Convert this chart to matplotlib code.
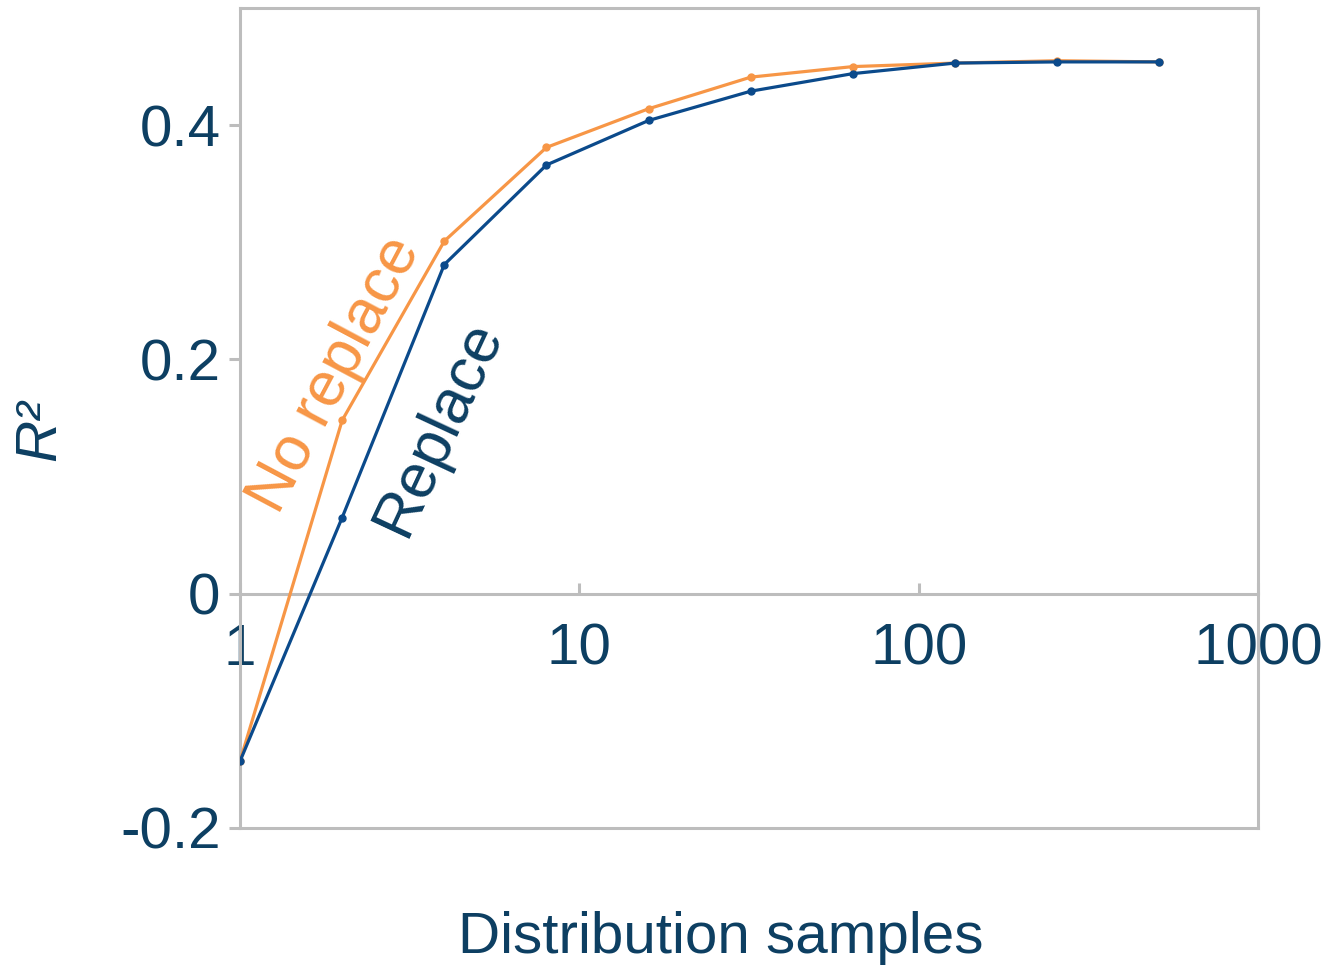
import numpy as np
import matplotlib.pyplot as plt

# R^2 vs number of distribution samples
samples = [1, 2, 4, 8, 16, 32, 64, 128, 256, 512]
r2_replace = [-0.143, 0.065, 0.281, 0.366, 0.404, 0.429, 0.444, 0.453, 0.454, 0.454]
r2_no_replace = [-0.143, 0.148, 0.301, 0.381, 0.414, 0.441, 0.450, 0.453, 0.455, 0.454]

x_ticks = [1, 10, 100, 1000]
y_ticks = [-0.2, 0, 0.2, 0.4]
y_tick_labels = ['-0.2', '0', '0.2', '0.4']

text_col = '#0d3f62'
blue = '#0b4a8b'
orange = '#f79646'
grey = '#bdbdbd'
fs = 42

plt.rcParams['font.family'] = ['Liberation Sans', 'DejaVu Sans']

fig = plt.figure(figsize=(13.29, 9.66), dpi=100)
ax = fig.add_axes([0.1806, 0.1429, 0.766, 0.8488])

ax.plot(samples, r2_no_replace, '-o', color=orange, lw=2.3, ms=5, zorder=3)
ax.plot(samples, r2_replace, '-o', color=blue, lw=2.3, ms=5, zorder=4)

ax.set_xscale('log')
ax.set_xlim(1, 1000)
ax.set_ylim(-0.2, 0.5)

for side in ['left', 'right', 'top', 'bottom']:
    ax.spines[side].set_color(grey)
    ax.spines[side].set_linewidth(2.2)
# x axis line crosses at zero, frame bottom stays at -0.2
ax.spines['bottom'].set_position(('data', 0))
ax.axhline(-0.2, color=grey, lw=2.2, clip_on=False, zorder=1)

ax.set_xticks(x_ticks)
ax.set_xticklabels([str(t) for t in x_ticks])
ax.xaxis.set_minor_locator(plt.NullLocator())
ax.set_yticks(y_ticks)
ax.set_yticklabels(y_tick_labels)

ax.tick_params(axis='x', direction='in', length=8, width=2.2, color=grey,
               labelsize=fs, labelcolor=text_col, pad=21)
ax.tick_params(axis='y', direction='out', length=8, width=2.2, color=grey,
               labelsize=fs, labelcolor=text_col, pad=6)

ax.set_xlabel('Distribution samples', fontsize=fs, color=text_col, va='center')
ax.xaxis.set_label_coords(0.4725, -0.134)
ax.set_ylabel('R²', fontsize=fs, color=text_col, fontstyle='italic',
              ha='center', va='center')
ax.yaxis.set_label_coords(-0.1965, 0.4854)

# series names written along the lines
ax.text(0.0935, 0.5524, 'No replace', rotation=62, color=orange, fontsize=45,
        ha='center', va='center', transform=ax.transAxes, rotation_mode='anchor')
ax.text(0.195, 0.4878, 'Replace', rotation=65, color=text_col, fontsize=45,
        ha='center', va='center', transform=ax.transAxes, rotation_mode='anchor')

fig.savefig('out.png', dpi=100)
